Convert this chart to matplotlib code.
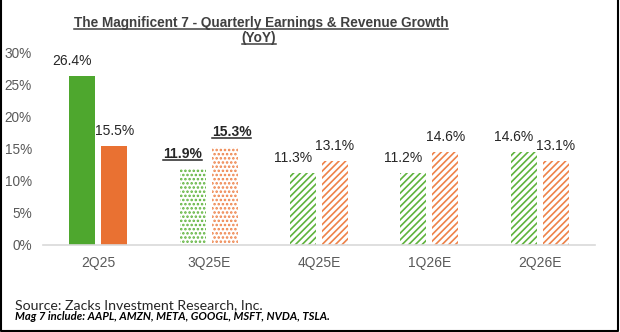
import matplotlib
matplotlib.use("Agg")
import matplotlib.pyplot as plt
from matplotlib.lines import Line2D
import numpy as np

# data
quarters = ['2Q25', '3Q25E', '4Q25E', '1Q26E', '2Q26E']
earnings = [26.4, 11.9, 11.3, 11.2, 14.6]
revenue = [15.5, 15.3, 13.1, 14.6, 13.1]
patterns = ['', '....', '/////', '/////', '/////']
bold_labels = [False, True, False, False, False]
yticks = [0, 5, 10, 15, 20, 25, 30]

green = '#4EA72E'
orange = '#E97132'
green_light = '#5FB33C'
orange_light = '#EE8248'
grey_txt = '#595959'

plt.rcParams['font.family'] = ['Liberation Sans', 'DejaVu Sans']
plt.rcParams['hatch.linewidth'] = 1.2

fig = plt.figure(figsize=(6.2, 3.32), dpi=100)
ax = fig.add_axes([43/620, 87/332, 552/620, 192/332])

x = np.arange(len(quarters))
w = 0.235
off = 0.145

for i in range(len(quarters)):
    if patterns[i] == '':
        ax.bar(x[i] - off, earnings[i], w, color=green, linewidth=0)
        ax.bar(x[i] + off, revenue[i], w, color=orange, linewidth=0)
    else:
        ax.bar(x[i] - off, earnings[i], w, facecolor='white', edgecolor=green_light,
               hatch=patterns[i], linewidth=0)
        ax.bar(x[i] + off, revenue[i], w, facecolor='white', edgecolor=orange_light,
               hatch=patterns[i], linewidth=0)

ax.set_xlim(-0.5, len(quarters) - 0.5)
ax.set_ylim(0, 30)
ax.set_yticks(yticks)
ax.set_yticklabels([f'{t}%' for t in yticks])
ax.set_xticks(x)
ax.set_xticklabels(quarters)
ax.tick_params(axis='y', length=0, pad=8, labelsize=9.8, labelcolor=grey_txt)
ax.tick_params(axis='x', length=0, pad=8, labelsize=10, labelcolor=grey_txt)
for s in ['top', 'right', 'left']:
    ax.spines[s].set_visible(False)
ax.spines['bottom'].set_color('#d9d9d9')
ax.spines['bottom'].set_linewidth(1.2)

underline_these = []
for i in range(len(quarters)):
    fw = 'bold' if bold_labels[i] else 'normal'
    t1 = ax.annotate(f'{earnings[i]}%', (x[i] - off, earnings[i]), xytext=(-10, 15),
                     textcoords='offset pixels', ha='center', va='center',
                     fontsize=10, fontweight=fw, color='#262626')
    dx = 7 if bold_labels[i] else 0
    t2 = ax.annotate(f'{revenue[i]}%', (x[i] + off, revenue[i]), xytext=(dx, 15),
                     textcoords='offset pixels', ha='center', va='center',
                     fontsize=10, fontweight=fw, color='#262626')
    if bold_labels[i]:
        underline_these += [t1, t2]

# title, two lines, underlined
title1 = fig.text(261/620, 1 - 23/332, 'The Magnificent 7 - Quarterly Earnings & Revenue Growth',
                  ha='center', va='center', fontsize=9.8, fontweight='bold', color='#404040')
title2 = fig.text(259/620, 1 - 38/332, '(YoY)', ha='center', va='center',
                  fontsize=9.8, fontweight='bold', color='#404040')
underline_these += [title1, title2]

# footer
fig.text(15/620, 1 - 305/332, 'Source: Zacks Investment Research, Inc.', ha='left', va='center',
         fontsize=10.2, family='Lato', color='#262626')
fig.text(15/620, 1 - 316.5/332, 'Mag 7 include: AAPL, AMZN, META, GOOGL, MSFT, NVDA, TSLA.',
         ha='left', va='center', fontsize=8.1, family='Lato', fontweight='bold',
         style='italic', color='black')

# underlines under text
fig.canvas.draw()
r = fig.canvas.get_renderer()
for t in underline_these:
    bb = t.get_window_extent(renderer=r)
    y0 = bb.y0 + 1
    fig.add_artist(Line2D([bb.x0 / 620, bb.x1 / 620], [y0 / 332, y0 / 332],
                          color=t.get_color(), linewidth=1.1))

# black frame on the picture edges
fig.add_artist(Line2D([0.001, 0.001, 0.997, 0.997], [1, 0.004, 0.004, 1],
                      color='black', linewidth=1.5))

fig.savefig('out.png', dpi=100)
